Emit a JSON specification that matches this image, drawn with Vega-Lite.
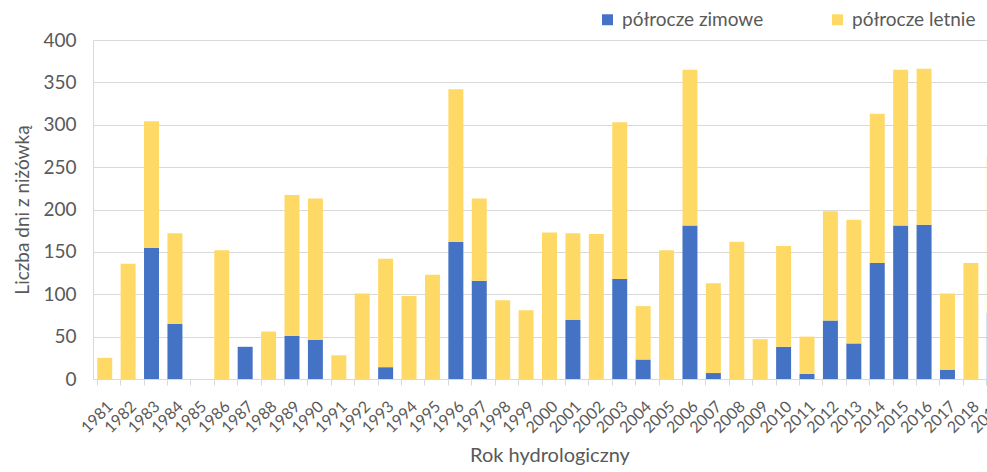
{
  "$schema": "https://vega.github.io/schema/vega-lite/v6.json",
  "autosize": {"type": "none"},
  "width": 894,
  "height": 339,
  "padding": {"left": 93, "top": 40, "right": 0, "bottom": 93},
  "background": "white",
  "config": {
    "font": "Lato",
    "view": {"stroke": null}
  },
  "data": {
    "values": [
      {"rok": "1981", "polrocze": "półrocze zimowe", "dni": 0}, {"rok": "1981", "polrocze": "półrocze letnie", "dni": 25},
      {"rok": "1982", "polrocze": "półrocze zimowe", "dni": 0}, {"rok": "1982", "polrocze": "półrocze letnie", "dni": 136},
      {"rok": "1983", "polrocze": "półrocze zimowe", "dni": 155}, {"rok": "1983", "polrocze": "półrocze letnie", "dni": 149},
      {"rok": "1984", "polrocze": "półrocze zimowe", "dni": 65}, {"rok": "1984", "polrocze": "półrocze letnie", "dni": 107},
      {"rok": "1985", "polrocze": "półrocze zimowe", "dni": 0}, {"rok": "1985", "polrocze": "półrocze letnie", "dni": 0},
      {"rok": "1986", "polrocze": "półrocze zimowe", "dni": 0}, {"rok": "1986", "polrocze": "półrocze letnie", "dni": 152},
      {"rok": "1987", "polrocze": "półrocze zimowe", "dni": 38}, {"rok": "1987", "polrocze": "półrocze letnie", "dni": 0},
      {"rok": "1988", "polrocze": "półrocze zimowe", "dni": 0}, {"rok": "1988", "polrocze": "półrocze letnie", "dni": 56},
      {"rok": "1989", "polrocze": "półrocze zimowe", "dni": 51}, {"rok": "1989", "polrocze": "półrocze letnie", "dni": 166},
      {"rok": "1990", "polrocze": "półrocze zimowe", "dni": 46}, {"rok": "1990", "polrocze": "półrocze letnie", "dni": 167},
      {"rok": "1991", "polrocze": "półrocze zimowe", "dni": 0}, {"rok": "1991", "polrocze": "półrocze letnie", "dni": 28},
      {"rok": "1992", "polrocze": "półrocze zimowe", "dni": 0}, {"rok": "1992", "polrocze": "półrocze letnie", "dni": 101},
      {"rok": "1993", "polrocze": "półrocze zimowe", "dni": 14}, {"rok": "1993", "polrocze": "półrocze letnie", "dni": 128},
      {"rok": "1994", "polrocze": "półrocze zimowe", "dni": 0}, {"rok": "1994", "polrocze": "półrocze letnie", "dni": 98},
      {"rok": "1995", "polrocze": "półrocze zimowe", "dni": 0}, {"rok": "1995", "polrocze": "półrocze letnie", "dni": 123},
      {"rok": "1996", "polrocze": "półrocze zimowe", "dni": 162}, {"rok": "1996", "polrocze": "półrocze letnie", "dni": 180},
      {"rok": "1997", "polrocze": "półrocze zimowe", "dni": 116}, {"rok": "1997", "polrocze": "półrocze letnie", "dni": 97},
      {"rok": "1998", "polrocze": "półrocze zimowe", "dni": 0}, {"rok": "1998", "polrocze": "półrocze letnie", "dni": 93},
      {"rok": "1999", "polrocze": "półrocze zimowe", "dni": 0}, {"rok": "1999", "polrocze": "półrocze letnie", "dni": 81},
      {"rok": "2000", "polrocze": "półrocze zimowe", "dni": 0}, {"rok": "2000", "polrocze": "półrocze letnie", "dni": 173},
      {"rok": "2001", "polrocze": "półrocze zimowe", "dni": 70}, {"rok": "2001", "polrocze": "półrocze letnie", "dni": 102},
      {"rok": "2002", "polrocze": "półrocze zimowe", "dni": 0}, {"rok": "2002", "polrocze": "półrocze letnie", "dni": 171},
      {"rok": "2003", "polrocze": "półrocze zimowe", "dni": 118}, {"rok": "2003", "polrocze": "półrocze letnie", "dni": 185},
      {"rok": "2004", "polrocze": "półrocze zimowe", "dni": 23}, {"rok": "2004", "polrocze": "półrocze letnie", "dni": 63},
      {"rok": "2005", "polrocze": "półrocze zimowe", "dni": 0}, {"rok": "2005", "polrocze": "półrocze letnie", "dni": 152},
      {"rok": "2006", "polrocze": "półrocze zimowe", "dni": 181}, {"rok": "2006", "polrocze": "półrocze letnie", "dni": 184},
      {"rok": "2007", "polrocze": "półrocze zimowe", "dni": 7}, {"rok": "2007", "polrocze": "półrocze letnie", "dni": 106},
      {"rok": "2008", "polrocze": "półrocze zimowe", "dni": 0}, {"rok": "2008", "polrocze": "półrocze letnie", "dni": 162},
      {"rok": "2009", "polrocze": "półrocze zimowe", "dni": 0}, {"rok": "2009", "polrocze": "półrocze letnie", "dni": 47},
      {"rok": "2010", "polrocze": "półrocze zimowe", "dni": 38}, {"rok": "2010", "polrocze": "półrocze letnie", "dni": 119},
      {"rok": "2011", "polrocze": "półrocze zimowe", "dni": 6}, {"rok": "2011", "polrocze": "półrocze letnie", "dni": 44},
      {"rok": "2012", "polrocze": "półrocze zimowe", "dni": 69}, {"rok": "2012", "polrocze": "półrocze letnie", "dni": 129},
      {"rok": "2013", "polrocze": "półrocze zimowe", "dni": 42}, {"rok": "2013", "polrocze": "półrocze letnie", "dni": 146},
      {"rok": "2014", "polrocze": "półrocze zimowe", "dni": 137}, {"rok": "2014", "polrocze": "półrocze letnie", "dni": 176},
      {"rok": "2015", "polrocze": "półrocze zimowe", "dni": 181}, {"rok": "2015", "polrocze": "półrocze letnie", "dni": 184},
      {"rok": "2016", "polrocze": "półrocze zimowe", "dni": 182}, {"rok": "2016", "polrocze": "półrocze letnie", "dni": 184},
      {"rok": "2017", "polrocze": "półrocze zimowe", "dni": 11}, {"rok": "2017", "polrocze": "półrocze letnie", "dni": 90},
      {"rok": "2018", "polrocze": "półrocze zimowe", "dni": 0}, {"rok": "2018", "polrocze": "półrocze letnie", "dni": 137},
      {"rok": "2019", "polrocze": "półrocze zimowe", "dni": 78}, {"rok": "2019", "polrocze": "półrocze letnie", "dni": 184}
    ]
  },
  "mark": {"type": "bar"},
  "encoding": {
    "x": {
      "field": "rok",
      "type": "ordinal",
      "scale": {"range": [0, 913], "paddingInner": 0.36, "paddingOuter": 0.18},
      "axis": {
        "title": "Rok hydrologiczny",
        "titleFontSize": 20,
        "titleFontWeight": "normal",
        "titleColor": "#595959",
        "titlePadding": 10,
        "labelAngle": -45,
        "labelFontSize": 16,
        "labelColor": "#595959",
        "labelPadding": 13,
        "labelOverlap": false,
        "bandPosition": 0,
        "tickSize": 6,
        "tickColor": "#d9d9d9",
        "domainColor": "#d9d9d9",
        "grid": false
      }
    },
    "y": {
      "field": "dni",
      "type": "quantitative",
      "aggregate": "sum",
      "stack": "zero",
      "scale": {"domain": [0, 400], "nice": false},
      "axis": {
        "title": "Liczba dni z niżówką",
        "titleFontSize": 19,
        "titleFontWeight": "normal",
        "titleColor": "#595959",
        "titlePadding": 10,
        "values": [0, 50, 100, 150, 200, 250, 300, 350, 400],
        "labelFontSize": 19,
        "labelColor": "#595959",
        "labelPadding": 17,
        "tickSize": 0,
        "domain": true,
        "domainColor": "#d9d9d9",
        "gridColor": "#d9d9d9",
        "gridWidth": 1
      }
    },
    "color": {
      "field": "polrocze",
      "type": "nominal",
      "scale": {"domain": ["półrocze zimowe", "półrocze letnie"], "range": ["#4472C4", "#FFD966"]},
      "legend": {
        "title": null,
        "orient": "none",
        "legendX": 505,
        "legendY": -30,
        "direction": "horizontal",
        "symbolType": "square",
        "symbolSize": 120,
        "symbolStrokeWidth": 0,
        "labelFontSize": 19,
        "labelColor": "#595959",
        "labelOffset": 5,
        "labelLimit": 300,
        "columnPadding": 64
      }
    },
    "order": {"field": "polrocze", "sort": "descending"}
  }
}
